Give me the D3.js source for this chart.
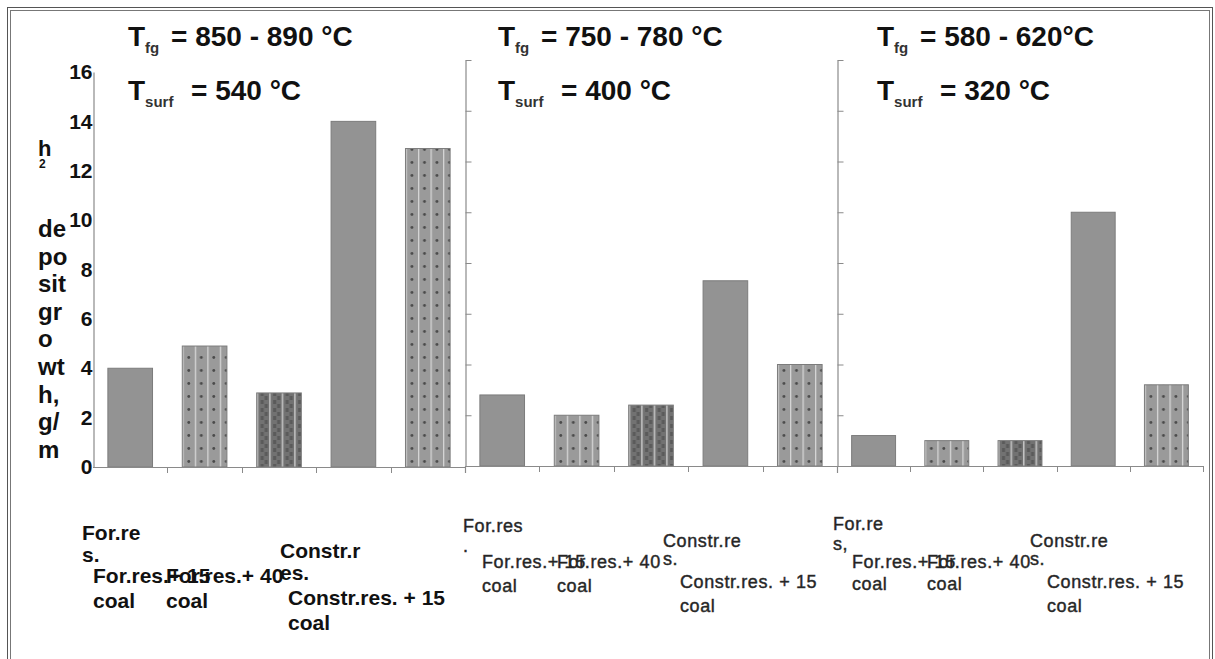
<!DOCTYPE html>
<html><head><meta charset="utf-8">
<script src="https://cdn.jsdelivr.net/npm/d3@7"></script>
<style>
body{margin:0;background:#fff}
svg{display:block}
text{font-family:"Liberation Sans",Arial,Helvetica,sans-serif}
</style>
</head><body>
<svg id="c" width="1215" height="659"></svg>
<script>
// ---------- DATA ----------
const categories = ["For.res.", "For.res.+ 15 coal", "For.res.+ 40 coal", "Constr.res.", "Constr.res. + 15 coal"];
const fgRanges = ["850 - 890 °C", "750 - 780 °C", "580 - 620°C"];
const surfTemps = ["540 °C", "400 °C", "320 °C"];
const values850 = [4.0, 4.9, 3.0, 14.0, 12.9];
const values750 = [2.8, 2.0, 2.4, 7.3, 4.0];
const values580 = [1.2, 1.0, 1.0, 10.0, 3.2];
const yTicks = [0, 2, 4, 6, 8, 10, 12, 14, 16];
const yLabelLines = ["de", "po", "sit", "gr", "o", "wt", "h,", "g/", "m"];
const xLabelsP1 = [["For.re", "s."], ["For.res.+ 15", "coal"], ["For.res.+ 40", "coal"], ["Constr.r", "es."], ["Constr.res. + 15", "coal"]];
const xLabelsP2 = [["For.res", "."], ["For.res.+ 15", "coal"], ["For.res.+ 40", "coal"], ["Constr.re", "s."], ["Constr.res. + 15", "coal"]];
const xLabelsP3 = [["For.re", "s,"], ["For.res.+ 15", "coal"], ["For.res.+ 40", "coal"], ["Constr.re", "s."], ["Constr.res. + 15", "coal"]];
const fillKinds = ["solid", "dots", "dense", "solid", "dots"];

const seriesValues = [values850, values750, values580];
const xLabelSets = [xLabelsP1, xLabelsP2, xLabelsP3];

// ---------- LAYOUT ----------
const svg = d3.select("#c");
const defs = svg.append("defs");
const panelX = [[93, 465], [465, 837], [837, 1203]];
const panelY = [[467, 72], [466, 60], [466, 60]];
const headerOffset = [35, 33, 40];
const labelOffsets = [[-11, 0, 73, 187, 195], [-2, 17, 92, 198, 215], [-4, 15, 90, 193, 210]];
const labelBaselines = [
  [[540, 562], [583, 608], [583, 608], [558, 580], [605, 630]],
  [[532, 552], [568, 592], [568, 592], [547, 565], [588, 612]],
  [[530, 550], [568, 590], [568, 590], [547, 565], [588, 612]]
];

// frame (double line)
svg.append("rect").attr("x", 7.5).attr("y", 7.5).attr("width", 1205).attr("height", 700)
  .attr("fill", "none").attr("stroke", "#555").attr("stroke-width", 1);
svg.append("rect").attr("x", 10.5).attr("y", 10.5).attr("width", 1199).attr("height", 700)
  .attr("fill", "none").attr("stroke", "#777").attr("stroke-width", 1);

function makePattern(id, kind, x0) {
  if (kind === "dots") {
    const p = defs.append("pattern").attr("id", id).attr("patternUnits", "userSpaceOnUse")
      .attr("x", x0).attr("y", 0).attr("width", 12.5).attr("height", 13);
    p.append("rect").attr("width", 12.5).attr("height", 13).attr("fill", "#9a9a9a");
    p.append("rect").attr("x", 0).attr("width", 1.3).attr("height", 13).attr("fill", "#d6d6d6");
    p.append("circle").attr("cx", 6.5).attr("cy", 6.5).attr("r", 1.4).attr("fill", "#4a4a4a");
  } else if (kind === "dense") {
    const p = defs.append("pattern").attr("id", id).attr("patternUnits", "userSpaceOnUse")
      .attr("x", x0).attr("y", 0).attr("width", 12.5).attr("height", 8);
    p.append("rect").attr("width", 12.5).attr("height", 8).attr("fill", "#727272");
    p.append("rect").attr("x", 0).attr("width", 1.5).attr("height", 8).attr("fill", "#c4c4c4");
    p.append("rect").attr("x", 4).attr("y", 0).attr("width", 3).attr("height", 4).attr("fill", "#5a5a5a");
    p.append("rect").attr("x", 8).attr("y", 4).attr("width", 3).attr("height", 4).attr("fill", "#5a5a5a");
  }
}

seriesValues.forEach((vals, p) => {
  const x = d3.scaleBand().domain(categories).range(panelX[p]).paddingInner(0.4).paddingOuter(0.2);
  const y = d3.scaleLinear().domain([0, 16]).range(panelY[p]);
  const g = svg.append("g");
  const r0 = panelX[p][0], r1 = panelX[p][1];

  // bars
  categories.forEach((c, i) => {
    const kind = fillKinds[i];
    let fill = "#939393";
    if (kind !== "solid") {
      const id = "pat" + p + "_" + i;
      makePattern(id, kind, x(c));
      fill = "url(#" + id + ")";
    }
    g.append("rect")
      .attr("x", x(c)).attr("width", x.bandwidth())
      .attr("y", y(vals[i])).attr("height", y(0) - y(vals[i]))
      .attr("fill", fill)
      .attr("stroke", "#7c7c7c").attr("stroke-width", 1);
  });

  // x axis
  g.append("line").attr("x1", r0).attr("x2", r1).attr("y1", y(0) + 0.5).attr("y2", y(0) + 0.5)
    .attr("stroke", "#8a8a8a").attr("stroke-width", 1.2);
  const step = x.step();
  for (let i = 1; i <= categories.length; i++) {
    const tx = Math.round(r0 + i * step) + 0.5;
    g.append("line").attr("x1", tx).attr("x2", tx).attr("y1", y(0)).attr("y2", y(0) + 6)
      .attr("stroke", "#8a8a8a").attr("stroke-width", 1);
  }

  // y axis
  if (p === 0) {
    const ax = g.append("g").attr("transform", "translate(" + (r0 + 0.5) + ",0)")
      .call(d3.axisLeft(y).tickValues(yTicks).tickSize(0).tickPadding(1).tickSizeOuter(0));
    ax.select(".domain").attr("stroke", "#8a8a8a").attr("stroke-width", 1.2);
    ax.selectAll("text").attr("font-size", 21).attr("font-weight", "bold").attr("fill", "#111")
      .attr("font-family", '"Liberation Sans",Arial,sans-serif');
  } else {
    const ax = g.append("g").attr("transform", "translate(" + (r0 + 0.5) + ",0)")
      .call(d3.axisRight(y).tickValues(yTicks).tickSize(6).tickFormat("").tickSizeOuter(0));
    ax.select(".domain").attr("stroke", "#8a8a8a").attr("stroke-width", 1.2);
    ax.selectAll(".tick line").attr("stroke", "#8a8a8a");
    g.append("line").attr("x1", r0 + 0.5).attr("x2", r0 + 0.5).attr("y1", y(0)).attr("y2", y(0) + 7)
      .attr("stroke", "#8a8a8a").attr("stroke-width", 1.2);
  }

  // headers
  const hx = r0 + headerOffset[p];
  const h1 = g.append("text").attr("x", hx).attr("y", 46).attr("font-size", 28).attr("font-weight", "bold").attr("fill", "#111");
  h1.append("tspan").text("T");
  h1.append("tspan").attr("font-size", 15).attr("dy", 7).attr("fill", "#333").text("fg");
  h1.append("tspan").attr("x", hx + 43).attr("dy", -7).text("= " + fgRanges[p]);
  const h2 = g.append("text").attr("x", hx).attr("y", 100).attr("font-size", 28).attr("font-weight", "bold").attr("fill", "#111");
  h2.append("tspan").text("T");
  h2.append("tspan").attr("font-size", 15).attr("dy", 7).attr("fill", "#333").text("surf");
  h2.append("tspan").attr("x", hx + 63).attr("dy", -7).text("= " + surfTemps[p]);

  // category labels
  xLabelSets[p].forEach((lines, i) => {
    const lx = r0 + labelOffsets[p][i];
    lines.forEach((ln, k) => {
      const t = g.append("text").attr("x", lx).attr("y", labelBaselines[p][i][k]).text(ln);
      if (p === 0) {
        t.attr("font-size", 21).attr("font-weight", "bold").attr("fill", "#111");
      } else {
        t.attr("font-size", 18).attr("font-weight", "normal").attr("fill", "#222")
          .attr("letter-spacing", 0.6).attr("stroke", "#333").attr("stroke-width", 0.45);
      }
    });
  });
});

// y-axis title (stacked fragments)
svg.append("text").attr("x", 38).attr("y", 156).attr("font-size", 22).attr("font-weight", "bold").attr("fill", "#111").text("h");
svg.append("text").attr("x", 39).attr("y", 168).attr("font-size", 12).attr("font-weight", "bold").attr("fill", "#111").text("2");
yLabelLines.forEach((ln, i) => {
  svg.append("text").attr("x", 38).attr("y", 237 + i * 27.6).attr("font-size", 24)
    .attr("font-weight", "bold").attr("fill", "#111").text(ln);
});
</script>
</body></html>
